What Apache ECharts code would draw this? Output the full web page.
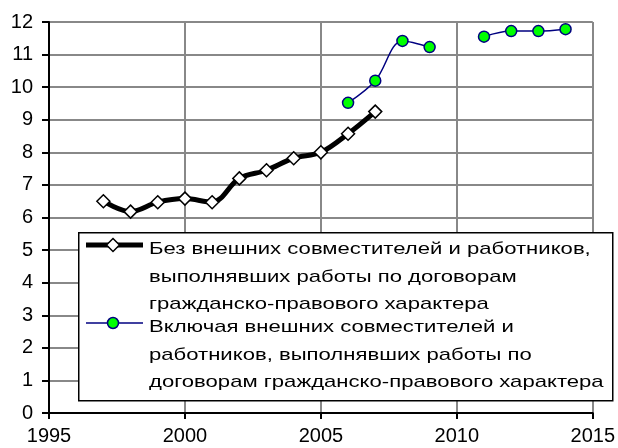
<!DOCTYPE html>
<html>
<head>
<meta charset="utf-8">
<script src="https://cdn.jsdelivr.net/npm/echarts@6/dist/echarts.min.js"></script>
<style>
html, body { margin: 0; padding: 0; background: #fff; }
#chart { width: 618px; height: 448px; }
</style>
</head>
<body>
<div id="chart"></div>
<script>
// годы и значения
var years1 = [1997, 1998, 1999, 2000, 2001, 2002, 2003, 2004, 2005, 2006, 2007];
var values1 = [6.5, 6.18, 6.47, 6.58, 6.47, 7.2, 7.45, 7.82, 8.0, 8.57, 9.25];
var years2 = [2006, 2007, 2008, 2009, 2010, 2011, 2012, 2013, 2014];
var values2 = [9.52, 10.2, 11.42, 11.23, null, 11.55, 11.72, 11.72, 11.78];
var name1 = 'Без внешних совместителей и работников,\nвыполнявших работы по договорам\nгражданско-правового характера';
var name2 = 'Включая внешних совместителей и\nработников, выполнявших работы по\nдоговорам гражданско-правового характера';

function pairs(xs, ys) {
  var out = [];
  for (var i = 0; i < xs.length; i++) {
    out.push([xs[i], ys[i] == null ? '-' : ys[i]]);
  }
  return out;
}

var chart = echarts.init(document.getElementById('chart'));
var font = 'Liberation Sans, Arial, sans-serif';

var option = {
  animation: false,
  backgroundColor: '#fff',
  grid: { left: 49, right: 24, top: 22, bottom: 35 },
  xAxis: {
    type: 'value', min: 1995, max: 2015, interval: 5,
    axisLine: { show: true, onZero: false, lineStyle: { color: '#000', width: 2 } },
    axisTick: { show: true, length: 6, lineStyle: { color: '#000', width: 2 } },
    axisLabel: { color: '#000', fontSize: 20, fontFamily: font, margin: 13,
      formatter: function (v) { return String(v); } },
    splitLine: { show: true, lineStyle: { color: '#888', width: 2 } }
  },
  yAxis: {
    type: 'value', min: 0, max: 12, interval: 1,
    axisLine: { show: true, lineStyle: { color: '#000', width: 2 } },
    axisTick: { show: true, length: 7, lineStyle: { color: '#000', width: 2 } },
    axisLabel: { color: '#000', fontSize: 20, fontFamily: font, margin: 16 },
    splitLine: { show: true, lineStyle: { color: '#888', width: 2 } }
  },
  series: [
    {
      name: name1, type: 'line', smooth: 0.35,
      data: pairs(years1, values1),
      symbol: 'diamond', symbolSize: 13,
      lineStyle: { color: '#000', width: 5 },
      itemStyle: { color: '#fff', borderColor: '#000', borderWidth: 1.5 },
      z: 3
    },
    {
      name: name2, type: 'line', smooth: 0.35, connectNulls: false,
      data: pairs(years2, values2),
      symbol: 'circle', symbolSize: 11,
      lineStyle: { color: '#000080', width: 1.5 },
      itemStyle: { color: '#00ff00', borderColor: '#000080', borderWidth: 1.5 },
      z: 4
    }
  ],
  // легенда в рамке поверх сетки
  graphic: [
    { type: 'rect', z: 100, left: 78, top: 232,
      shape: { width: 534, height: 168 },
      style: { fill: '#ffffff', stroke: '#000', lineWidth: 1.5 } },
    { type: 'line', z: 101, shape: { x1: 86, y1: 245, x2: 143, y2: 245 },
      style: { stroke: '#000', lineWidth: 5 } },
    { type: 'polygon', z: 102, shape: { points: [[113, 238.5], [119.5, 245], [113, 251.5], [106.5, 245]] },
      style: { fill: '#fff', stroke: '#000', lineWidth: 1.5 } },
    { type: 'text', z: 101, x: 149, y: 236, scaleX: 1.3,
      style: { text: name1, fill: '#000', font: '17px ' + font, lineHeight: 27.5 } },
    { type: 'line', z: 101, shape: { x1: 86, y1: 323, x2: 143, y2: 323 },
      style: { stroke: '#000080', lineWidth: 1.5 } },
    { type: 'circle', z: 102, shape: { cx: 113, cy: 323, r: 5.5 },
      style: { fill: '#00ff00', stroke: '#000080', lineWidth: 1.5 } },
    { type: 'text', z: 101, x: 149, y: 314, scaleX: 1.3,
      style: { text: name2, fill: '#000', font: '17px ' + font, lineHeight: 27.5 } }
  ]
};

chart.setOption(option);
</script>
</body>
</html>
